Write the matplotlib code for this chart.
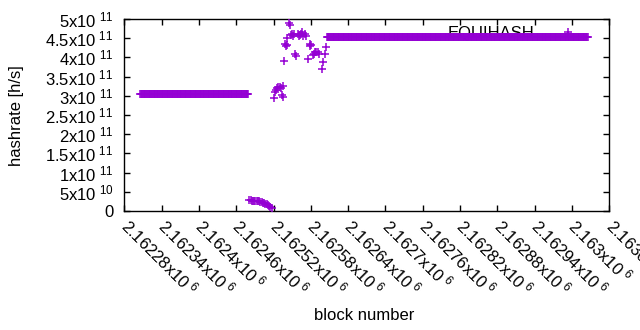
import matplotlib
matplotlib.use('Agg')
import matplotlib.pyplot as plt
from matplotlib.ticker import FixedLocator, FuncFormatter
import numpy as np

plt.rcParams['font.family'] = ['Liberation Sans', 'DejaVu Sans']
plt.rcParams['mathtext.fontset'] = 'custom'
plt.rcParams['mathtext.rm'] = 'Liberation Sans'
plt.rcParams['mathtext.it'] = 'Liberation Sans'

# flat runs: (first block, last block), constant hashrate
flat1_range = (2162306, 2162479)
flat1_rate = 3.04e11
flat2_range = (2162606, 2163025)
flat2_rate = 4.52e11

# low dip after the first run
low_blocks = [2162481, 2162483, 2162485, 2162487, 2162489, 2162491, 2162493,
              2162495, 2162497, 2162499, 2162501, 2162503, 2162505, 2162507,
              2162509, 2162511, 2162513, 2162515, 2162517]
low_rates = [2.9e10, 2.75e10, 2.7e10, 2.65e10, 2.6e10, 2.6e10, 2.55e10,
             2.55e10, 2.5e10, 2.45e10, 2.35e10, 2.2e10, 2.05e10, 1.9e10,
             1.7e10, 1.5e10, 1.3e10, 1.1e10, 0.9e10]

# scattered points in the transition
scat_blocks = [2162521, 2162522, 2162524, 2162525, 2162528, 2162530, 2162532,
               2162534, 2162535, 2162536, 2162537, 2162539, 2162540, 2162541,
               2162542, 2162545, 2162547, 2162548, 2162549, 2162551, 2162553,
               2162555, 2162556, 2162560, 2162561, 2162563, 2162565, 2162566,
               2162568, 2162570, 2162572, 2162575, 2162578, 2162579, 2162580,
               2162583, 2162585, 2162587, 2162589, 2162591, 2162593, 2162598,
               2162600, 2162603, 2162604]
scat_rates = [2.94e11, 3.1e11, 3.15e11, 3.2e11, 3.22e11, 3.23e11, 3.2e11,
              3.02e11, 2.97e11, 3.26e11, 3.9e11, 4.35e11, 4.3e11, 4.33e11,
              4.5e11, 4.9e11, 4.85e11, 4.58e11, 4.62e11, 4.55e11, 4.6e11,
              4.1e11, 4.04e11, 4.6e11, 4.55e11, 4.58e11, 4.62e11, 4.65e11,
              4.55e11, 4.6e11, 4.55e11, 3.96e11, 4.35e11, 4.3e11, 4.33e11,
              4.06e11, 4.1e11, 4.14e11, 4.15e11, 4.14e11, 4.1e11, 3.7e11,
              3.88e11, 4.1e11, 4.27e11]

x_ticks = [2162280 + 60 * i for i in range(14)]
y_ticks = [5e10 * i for i in range(11)]

color = '#9400d3'


def sci_label(v, pos=None):
    if v == 0:
        return '0'
    e = int(np.floor(np.log10(abs(v)) + 1e-9))
    m = v / 10 ** e
    ms = ('%.6f' % m).rstrip('0').rstrip('.')
    return ms + r'x10$\;^{%d}$' % e


blocks = np.concatenate([
    np.arange(flat1_range[0], flat1_range[1] + 1),
    low_blocks,
    scat_blocks,
    np.arange(flat2_range[0], flat2_range[1] + 1),
])
rates = np.concatenate([
    np.full(flat1_range[1] - flat1_range[0] + 1, flat1_rate),
    low_rates,
    scat_rates,
    np.full(flat2_range[1] - flat2_range[0] + 1, flat2_rate),
])

fig = plt.figure(figsize=(6.4, 3.3), dpi=100)
ax = fig.add_axes([0.1942, 0.3606, 0.952 - 0.1942, 0.9424 - 0.3606])

ax.plot(blocks, rates, linestyle='none', marker='+', markersize=5.5,
        markeredgewidth=1.1, color=color, label='EQUIHASH', zorder=3)

ax.set_xlim(2162280, 2163060)
ax.set_ylim(0, 5e11)
ax.xaxis.set_major_locator(FixedLocator(x_ticks))
ax.yaxis.set_major_locator(FixedLocator(y_ticks))
ax.xaxis.set_major_formatter(FuncFormatter(sci_label))
ax.yaxis.set_major_formatter(FuncFormatter(sci_label))
ax.tick_params(direction='in', length=4, width=1, top=True, right=True,
               labelsize=12, colors='black')
ax.tick_params(axis='y', pad=8)
ax.tick_params(axis='x', pad=8)
for lab in ax.get_xticklabels():
    lab.set_rotation(-45)
    lab.set_ha('left')
    lab.set_va('center')
    lab.set_rotation_mode('anchor')
for sp in ax.spines.values():
    sp.set_linewidth(1)

fig.text(364 / 640, 1 - 315 / 330, 'block number', fontsize=12,
         ha='center', va='center')
fig.text(17 / 640, 1 - 116 / 330, 'hashrate [h/s]', fontsize=12,
         ha='center', va='center', rotation=90)

leg = ax.legend(loc='upper right', bbox_to_anchor=(0.955, 1.0), frameon=False,
                markerfirst=False, fontsize=12, handlelength=1.5,
                handletextpad=1.3, borderaxespad=0)
leg.set_zorder(1)

fig.savefig('out.png', dpi=100)
